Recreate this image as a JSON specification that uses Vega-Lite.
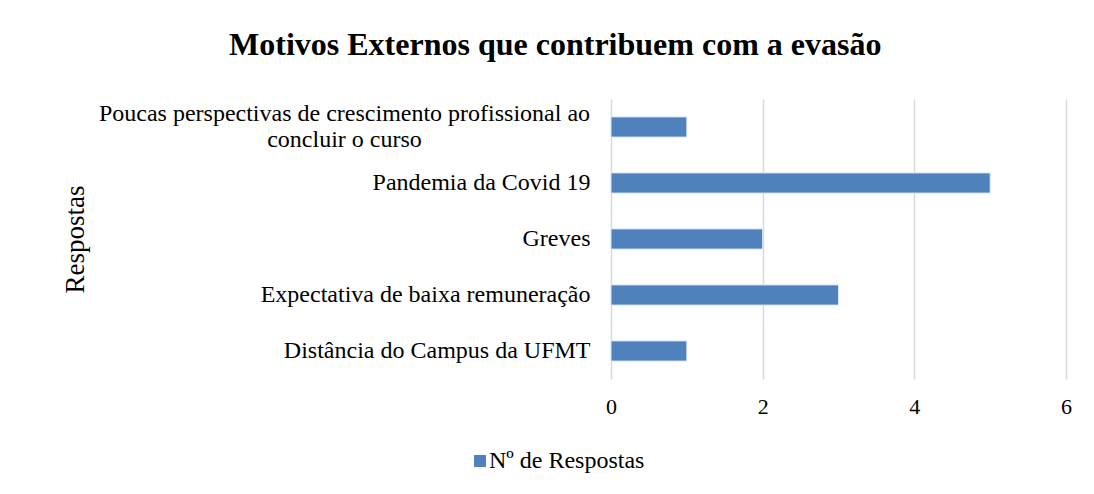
{
  "$schema": "https://vega.github.io/schema/vega-lite/v6.json",
  "width": 455,
  "height": 280,
  "autosize": {"type": "none"},
  "padding": {"left": 611, "top": 99, "right": 28, "bottom": 115},
  "background": "white",
  "title": {
    "text": "Motivos Externos que contribuem com a evasão",
    "font": "Liberation Serif",
    "fontSize": 32,
    "fontWeight": "bold",
    "color": "#000000",
    "anchor": "middle",
    "frame": "bounds",
    "offset": 37,
    "dx": -11
  },
  "data": {
    "values": [
      {"resposta": "Poucas perspectivas de crescimento profissional ao concluir o curso", "n": 1, "serie": "Nº de Respostas"},
      {"resposta": "Pandemia da Covid 19", "n": 5, "serie": "Nº de Respostas"},
      {"resposta": "Greves", "n": 2, "serie": "Nº de Respostas"},
      {"resposta": "Expectativa de baixa remuneração", "n": 3, "serie": "Nº de Respostas"},
      {"resposta": "Distância do Campus da UFMT", "n": 1, "serie": "Nº de Respostas"}
    ]
  },
  "mark": {"type": "bar", "stroke": "#dce6f2", "strokeWidth": 1},
  "encoding": {
    "y": {
      "field": "resposta",
      "type": "nominal",
      "sort": null,
      "scale": {"paddingInner": 0.64, "paddingOuter": 0.32},
      "axis": {
        "title": "Respostas",
        "titleFont": "Liberation Serif",
        "titleFontSize": 27,
        "titleFontWeight": "normal",
        "titleColor": "#000000",
        "titleX": -536,
        "titleY": 140,
        "titleAngle": -90,
        "titleAlign": "center",
        "titleBaseline": "middle",
        "labelFont": "Liberation Serif",
        "labelFontSize": 24,
        "labelColor": "#000000",
        "labelLimit": 0,
        "labelLineHeight": 26,
        "labelExpr": "datum.value == 'Poucas perspectivas de crescimento profissional ao concluir o curso' ? ['Poucas perspectivas de crescimento profissional ao', 'concluir o curso'] : datum.value",
        "labelAlign": {"condition": {"test": "datum.value == 'Poucas perspectivas de crescimento profissional ao concluir o curso'", "value": "center"}, "value": "right"},
        "labelPadding": {"condition": {"test": "datum.value == 'Poucas perspectivas de crescimento profissional ao concluir o curso'", "value": 267}, "value": 21},
        "labelOffset": {"condition": {"test": "datum.value == 'Poucas perspectivas de crescimento profissional ao concluir o curso'", "value": -13}, "value": 0},
        "ticks": false,
        "domain": false,
        "grid": false
      }
    },
    "x": {
      "field": "n",
      "type": "quantitative",
      "scale": {"domain": [0, 6], "nice": false},
      "axis": {
        "title": null,
        "values": [0, 2, 4, 6],
        "labelFont": "Liberation Serif",
        "labelFontSize": 22,
        "labelColor": "#000000",
        "labelPadding": 17,
        "labelFlush": false,
        "ticks": false,
        "domain": false,
        "grid": true,
        "gridColor": "#d9d9d9",
        "gridWidth": 1.5
      }
    },
    "color": {
      "field": "serie",
      "type": "nominal",
      "scale": {"range": ["#4f81bd"]},
      "legend": {
        "title": null,
        "orient": "none",
        "legendX": -143,
        "legendY": 350,
        "symbolType": "square",
        "symbolSize": 144,
        "symbolStrokeWidth": 0,
        "labelFont": "Liberation Serif",
        "labelFontSize": 24,
        "labelColor": "#000000",
        "labelOffset": -3
      }
    }
  },
  "config": {
    "view": {"stroke": null}
  }
}
